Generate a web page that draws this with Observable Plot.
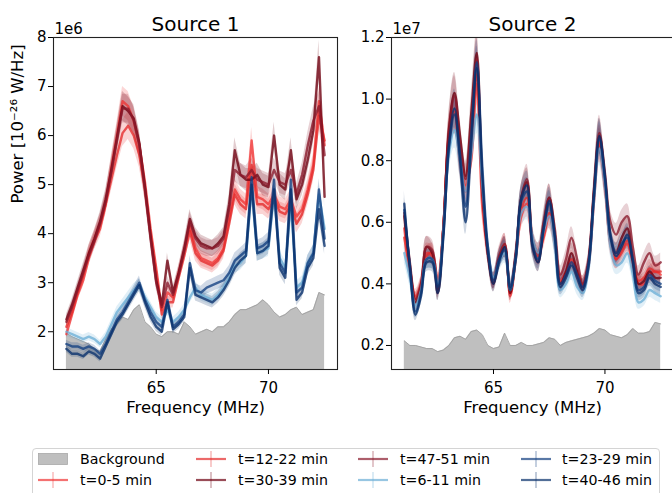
<!DOCTYPE html>
<html><head><meta charset="utf-8">
<script src="https://cdn.jsdelivr.net/npm/d3@7"></script>
<script src="https://cdn.jsdelivr.net/npm/@observablehq/plot@0.6"></script>
<style>
html,body{margin:0;padding:0;background:#fff;overflow:hidden}
#wrap{position:relative;width:672px;height:493px;overflow:hidden;font-family:"DejaVu Sans",sans-serif;background:#fff}
.panel{position:absolute;top:0}
#legend{position:absolute;left:32px;top:448px;width:628px;height:70px;border:1px solid #d4d4d4;border-radius:4px;background:#fff;box-sizing:border-box}
.lh{position:absolute}
.lt{position:absolute;font-size:14.2px;line-height:16px;white-space:nowrap;color:#000}
</style></head><body><div id="wrap"><div id="legend"></div></div>
<script>
// Frequency grid (MHz)
const freq = [61.00, 61.25, 61.50, 61.75, 62.00, 62.25, 62.50, 62.75, 63.00, 63.25,
  63.50, 63.75, 64.00, 64.25, 64.50, 64.75, 65.00, 65.25, 65.50, 65.75,
  66.00, 66.25, 66.50, 66.75, 67.00, 67.25, 67.50, 67.75, 68.00, 68.25,
  68.50, 68.75, 69.00, 69.25, 69.50, 69.75, 70.00, 70.25, 70.50, 70.75,
  71.00, 71.25, 71.50, 71.75, 72.00, 72.25, 72.50];

const seriesNames = ["t=0-5 min", "t=12-22 min", "t=30-39 min", "t=47-51 min", "t=6-11 min", "t=23-29 min", "t=40-46 min"];
const seriesColors = ["#f03434", "#e42a2a", "#6e0010", "#8a1a2c", "#6baed6", "#123f80", "#08306b"];
const s1_errorFraction = 0.045;
const s2_errorFraction = 0.065;

// Source 1 (units of 1e6 x 10^-26 W/Hz)
const s1_t0_5 = [1.95, 2.35, 2.75, 3.05, 3.5, 3.85, 4.1, 4.6, 5.35, 6.0,
  6.7, 6.6, 6.3, 5.8, 5.05, 4.1, 3.3, 2.45, 2.8, 2.7,
  3.2, 3.65, 4.15, 3.7, 3.5, 3.45, 3.4, 3.5, 3.7, 4.3,
  4.9, 4.7, 4.6, 5.9, 4.75, 4.7, 4.6, 4.8, 4.55, 4.5,
  4.7, 4.35, 4.5, 4.9, 5.4, 6.7, 5.8];
const s1_t12_22 = [2.1, 2.4, 2.8, 3.15, 3.6, 3.9, 4.2, 4.6, 5.1, 5.6,
  6.05, 6.2, 6.0, 5.6, 4.9, 4.0, 3.2, 2.35, 2.6, 2.6,
  3.1, 3.55, 4.05, 3.6, 3.45, 3.4, 3.35, 3.45, 3.65, 4.2,
  4.8, 4.6, 4.5, 5.4, 4.6, 4.6, 4.5, 4.7, 4.45, 4.4,
  4.6, 4.2, 4.4, 4.8, 5.3, 6.4, 5.9];
const s1_t30_39 = [2.25, 2.55, 2.9, 3.25, 3.6, 3.9, 4.25, 4.7, 5.3, 5.95,
  6.6, 6.5, 6.35, 5.85, 4.95, 3.95, 3.05, 2.55, 3.45, 2.8,
  3.2, 3.7, 4.3, 3.95, 3.8, 3.75, 3.7, 3.8, 3.95, 4.6,
  5.7, 5.2, 5.1, 5.1, 5.2, 5.0, 4.95, 6.0, 5.0, 4.9,
  5.7, 4.7, 5.0, 5.5, 6.1, 7.6, 4.75];
const s1_t47_51 = [2.2, 2.5, 2.85, 3.2, 3.55, 3.85, 4.2, 4.65, 5.25, 5.9,
  6.55, 6.55, 6.3, 5.8, 4.9, 3.9, 3.0, 2.5, 3.0, 2.75,
  3.15, 3.65, 4.25, 3.9, 3.75, 3.7, 3.7, 3.75, 3.9, 4.5,
  5.3, 5.2, 5.15, 5.3, 5.1, 5.05, 5.0, 5.3, 5.05, 5.0,
  5.3, 4.8, 5.2, 5.8, 6.3, 6.6, 5.6];
const s1_t6_11 = [2.0, 1.95, 1.9, 1.85, 1.9, 1.85, 1.75, 1.9, 2.15, 2.4,
  2.55, 2.7, 2.85, 2.95, 2.7, 2.5, 2.3, 2.2, 2.45, 2.2,
  2.3, 2.45, 2.7, 2.9, 2.75, 2.7, 2.65, 2.75, 2.9, 3.1,
  3.35, 3.4, 3.55, 4.9, 3.6, 3.65, 3.7, 4.8, 3.5, 3.3,
  4.6, 2.9, 3.0, 3.4, 3.6, 4.8, 4.1];
const s1_t23_29 = [1.75, 1.7, 1.7, 1.65, 1.7, 1.65, 1.55, 1.75, 2.0, 2.25,
  2.4, 2.6, 2.8, 3.0, 2.65, 2.4, 2.2, 2.1, 2.65, 2.1,
  2.2, 2.35, 3.4, 2.85, 2.8, 2.9, 2.95, 3.0, 3.05, 3.2,
  3.45, 3.55, 3.65, 5.15, 3.7, 3.75, 3.85, 5.1, 3.4, 3.2,
  5.1, 2.8, 2.9, 3.4, 3.6, 4.9, 3.9];
const s1_t40_46 = [1.65, 1.55, 1.55, 1.5, 1.6, 1.55, 1.45, 1.7, 1.95, 2.2,
  2.35, 2.55, 2.75, 2.95, 2.6, 2.3, 2.1, 2.0, 2.6, 2.05,
  2.15, 2.3, 3.3, 2.75, 2.7, 2.65, 2.6, 2.7, 2.85, 3.05,
  3.3, 3.45, 3.55, 5.0, 3.6, 3.65, 3.75, 4.9, 3.3, 3.1,
  4.9, 2.65, 2.8, 3.3, 3.5, 4.5, 3.75];
const s1_background = [1.97, 1.9, 1.85, 1.8, 1.75, 1.65, 1.6, 1.85, 2.05, 2.15,
  2.3, 2.25, 2.45, 2.55, 2.2, 2.1, 1.95, 1.9, 2.0, 2.0,
  1.95, 2.2, 2.1, 1.95, 2.0, 2.05, 2.0, 2.1, 2.1, 2.2,
  2.35, 2.45, 2.45, 2.5, 2.55, 2.65, 2.55, 2.4, 2.3, 2.35,
  2.45, 2.5, 2.35, 2.4, 2.45, 2.8, 2.75];

// Source 2 (units of 1e7 x 10^-26 W/Hz)
const s2_t0_5 = [0.58, 0.45, 0.36, 0.40, 0.50, 0.49, 0.40, 0.58, 0.88, 0.96,
  0.82, 0.72, 0.80, 1.05, 0.65, 0.50, 0.41, 0.48, 0.52, 0.36,
  0.48, 0.62, 0.66, 0.54, 0.50, 0.55, 0.62, 0.54, 0.41, 0.44,
  0.47, 0.43, 0.39, 0.45, 0.66, 0.85, 0.72, 0.53, 0.48, 0.50,
  0.53, 0.46, 0.40, 0.40, 0.43, 0.44, 0.43];
const s2_t12_22 = [0.55, 0.44, 0.35, 0.39, 0.49, 0.50, 0.41, 0.58, 0.87, 0.95,
  0.80, 0.70, 0.85, 1.08, 0.70, 0.50, 0.41, 0.48, 0.53, 0.37,
  0.49, 0.64, 0.68, 0.53, 0.49, 0.56, 0.63, 0.54, 0.40, 0.43,
  0.48, 0.44, 0.40, 0.46, 0.67, 0.86, 0.73, 0.54, 0.48, 0.51,
  0.54, 0.47, 0.41, 0.42, 0.45, 0.44, 0.44];
const s2_t30_39 = [0.62, 0.46, 0.34, 0.39, 0.52, 0.50, 0.37, 0.58, 0.90, 1.02,
  0.88, 0.75, 0.95, 1.15, 0.72, 0.50, 0.40, 0.48, 0.52, 0.37,
  0.49, 0.68, 0.73, 0.53, 0.47, 0.59, 0.68, 0.56, 0.40, 0.44,
  0.50, 0.44, 0.39, 0.46, 0.69, 0.88, 0.74, 0.55, 0.50, 0.55,
  0.58, 0.48, 0.40, 0.41, 0.44, 0.42, 0.42];
const s2_t47_51 = [0.63, 0.47, 0.35, 0.40, 0.52, 0.51, 0.38, 0.58, 0.89, 1.01,
  0.86, 0.74, 0.92, 1.13, 0.70, 0.51, 0.41, 0.49, 0.53, 0.38,
  0.50, 0.68, 0.74, 0.55, 0.50, 0.60, 0.68, 0.58, 0.43, 0.48,
  0.55, 0.48, 0.40, 0.47, 0.70, 0.89, 0.76, 0.60, 0.56, 0.60,
  0.62, 0.52, 0.43, 0.47, 0.50, 0.46, 0.47];
const s2_t6_11 = [0.50, 0.42, 0.33, 0.38, 0.48, 0.48, 0.40, 0.57, 0.82, 0.90,
  0.80, 0.70, 0.82, 0.95, 0.72, 0.52, 0.42, 0.47, 0.50, 0.38,
  0.48, 0.63, 0.65, 0.55, 0.50, 0.57, 0.62, 0.52, 0.38, 0.40,
  0.44, 0.39, 0.37, 0.44, 0.66, 0.84, 0.72, 0.52, 0.46, 0.47,
  0.50, 0.43, 0.34, 0.35, 0.38, 0.37, 0.36];
const s2_t23_29 = [0.64, 0.46, 0.31, 0.37, 0.48, 0.48, 0.39, 0.56, 0.84, 0.95,
  0.82, 0.65, 0.88, 1.12, 0.78, 0.52, 0.41, 0.48, 0.51, 0.39,
  0.49, 0.67, 0.70, 0.53, 0.48, 0.58, 0.66, 0.56, 0.40, 0.43,
  0.47, 0.43, 0.39, 0.46, 0.68, 0.87, 0.74, 0.56, 0.50, 0.53,
  0.55, 0.48, 0.38, 0.39, 0.43, 0.41, 0.40];
const s2_t40_46 = [0.66, 0.45, 0.30, 0.36, 0.47, 0.47, 0.37, 0.55, 0.85, 0.97,
  0.80, 0.60, 0.85, 1.10, 0.75, 0.50, 0.40, 0.47, 0.52, 0.38,
  0.48, 0.68, 0.72, 0.52, 0.47, 0.58, 0.67, 0.55, 0.39, 0.42,
  0.46, 0.42, 0.38, 0.45, 0.68, 0.88, 0.75, 0.55, 0.49, 0.52,
  0.56, 0.47, 0.37, 0.38, 0.42, 0.40, 0.39];
const s2_background = [0.215, 0.2, 0.2, 0.195, 0.19, 0.19, 0.18, 0.185, 0.2, 0.225,
  0.23, 0.22, 0.245, 0.25, 0.235, 0.2, 0.19, 0.195, 0.24, 0.2,
  0.2, 0.21, 0.2, 0.2, 0.205, 0.21, 0.225, 0.22, 0.2, 0.21,
  0.215, 0.22, 0.225, 0.23, 0.24, 0.255, 0.25, 0.235, 0.23, 0.225,
  0.235, 0.255, 0.24, 0.24, 0.245, 0.275, 0.27];

const xTicks = [65, 70];
const s1_yTicks = [2, 3, 4, 5, 6, 7, 8];
const s2_yTicks = [0.2, 0.4, 0.6, 0.8, 1.0, 1.2];
const titles = ["Source 1", "Source 2"];
const offsets = ["1e6", "1e7"];
const xLabel = "Frequency (MHz)";
const yLabel = "Power [10\u207B\u00B2\u2076 W/Hz]";
const legendBackground = "Background";

function toRows(list) {
  return list.flatMap((vals, k) => vals.map((v, i) => ({freq: freq[i], power: v, series: seriesNames[k]})));
}

function panel(o) {
  const data = toRows(o.lines);
  const bg = o.bg.map((v, i) => ({freq: freq[i], power: v}));
  const e = o.err;
  const marks = [
    Plot.areaY(bg, {x: "freq", y1: 0, y2: "power", fill: "#bfbfbf", clip: true}),
    Plot.line(bg, {x: "freq", y: "power", stroke: "#a0a0a0", strokeWidth: 0.9, clip: true}),
    Plot.areaY(data, {x: "freq", y1: d => d.power * (1 - e), y2: d => d.power * (1 + e), z: "series", fill: "series", fillOpacity: 0.2, curve: o.curve, clip: true}),
    Plot.line(data, {x: "freq", y: "power", z: "series", stroke: "series", strokeOpacity: 0.78, strokeWidth: 2.4, curve: o.curve, clip: true}),
    Plot.frame({stroke: "#222", strokeWidth: 1.1}),
    Plot.axisX({ticks: xTicks, tickSize: 5, tickPadding: 8, label: null, fontSize: 15}),
    Plot.axisY({ticks: o.yTicks, tickFormat: o.yFormat, tickSize: 5, tickPadding: 2, label: null, fontSize: 15}),
    Plot.text([o.title], {text: d => d, frameAnchor: "top", lineAnchor: "top", dy: -21, fontSize: 20}),
    Plot.text([o.offset], {text: d => d, frameAnchor: "top-left", textAnchor: "start", lineAnchor: "top", dy: -14.5, dx: 1, fontSize: 15}),
    Plot.text([xLabel], {text: d => d, frameAnchor: "bottom", lineAnchor: "top", dy: 32, fontSize: 16.5})
  ];
  if (o.yLabel) marks.push(Plot.text([o.yLabel], {text: d => d, frameAnchor: "left", rotate: -90, lineAnchor: "top", dx: -42, fontSize: 16.5}));
  return Plot.plot({
    width: o.width, height: 420,
    marginTop: 37, marginBottom: 51, marginLeft: o.marginLeft, marginRight: o.marginRight,
    style: {fontFamily: "'DejaVu Sans', sans-serif", fontSize: "15px", color: "#000", background: "transparent", overflow: "visible"},
    x: {domain: [60.425, 73.075]},
    y: {domain: o.yDomain},
    color: {domain: seriesNames, range: seriesColors},
    marks
  });
}

const wrap = document.getElementById("wrap");
const p1 = panel({title: titles[0], offset: offsets[0], lines: [s1_t0_5, s1_t12_22, s1_t30_39, s1_t47_51, s1_t6_11, s1_t23_29, s1_t40_46],
  bg: s1_background, err: s1_errorFraction, curve: "linear", yDomain: [1.23, 8.0], yTicks: s1_yTicks, yFormat: d3.format("d"), width: 340, marginLeft: 53, marginRight: 3, yLabel});
p1.classList.add("panel"); p1.style.left = "0px";
wrap.appendChild(p1);
const p2 = panel({title: titles[1], offset: offsets[1], lines: [s2_t0_5, s2_t12_22, s2_t30_39, s2_t47_51, s2_t6_11, s2_t23_29, s2_t40_46],
  bg: s2_background, err: s2_errorFraction, curve: "catmull-rom", yDomain: [0.122, 1.2], yTicks: s2_yTicks, yFormat: d3.format(".1f"), width: 334, marginLeft: 51, marginRight: 1});
p2.classList.add("panel"); p2.style.left = "340px";
wrap.appendChild(p2);

// Legend (column-major, 4 columns x 2 rows)
const legendItems = [{label: legendBackground, patch: true}].concat(seriesNames.map((n, i) => ({label: n, color: seriesColors[i]})));
const handleX = [38, 196, 358, 521];
const textX = [80, 238, 400, 562];
const rowY = [459, 480];
legendItems.forEach((it, k) => {
  const col = Math.floor(k / 2), row = k % 2;
  const h = document.createElementNS("http://www.w3.org/2000/svg", "svg");
  h.setAttribute("width", 30); h.setAttribute("height", 18);
  h.setAttribute("class", "lh");
  h.style.left = handleX[col] + "px"; h.style.top = (rowY[row] - 9) + "px";
  if (it.patch) {
    h.innerHTML = `<rect x="0.5" y="3.5" width="29" height="11" fill="#bfbfbf" stroke="#a8a8a8" stroke-width="0.8"/>`;
  } else {
    h.innerHTML = `<line x1="15" x2="15" y1="1" y2="17" stroke="${it.color}" stroke-opacity="0.25" stroke-width="2"/>` +
      `<line x1="0" x2="30" y1="9" y2="9" stroke="${it.color}" stroke-opacity="0.7" stroke-width="2.2"/>`;
  }
  wrap.appendChild(h);
  const t = document.createElement("div");
  t.className = "lt"; t.textContent = it.label;
  t.style.left = textX[col] + "px"; t.style.top = (rowY[row] - 8) + "px";
  wrap.appendChild(t);
});
</script>
</body></html>
